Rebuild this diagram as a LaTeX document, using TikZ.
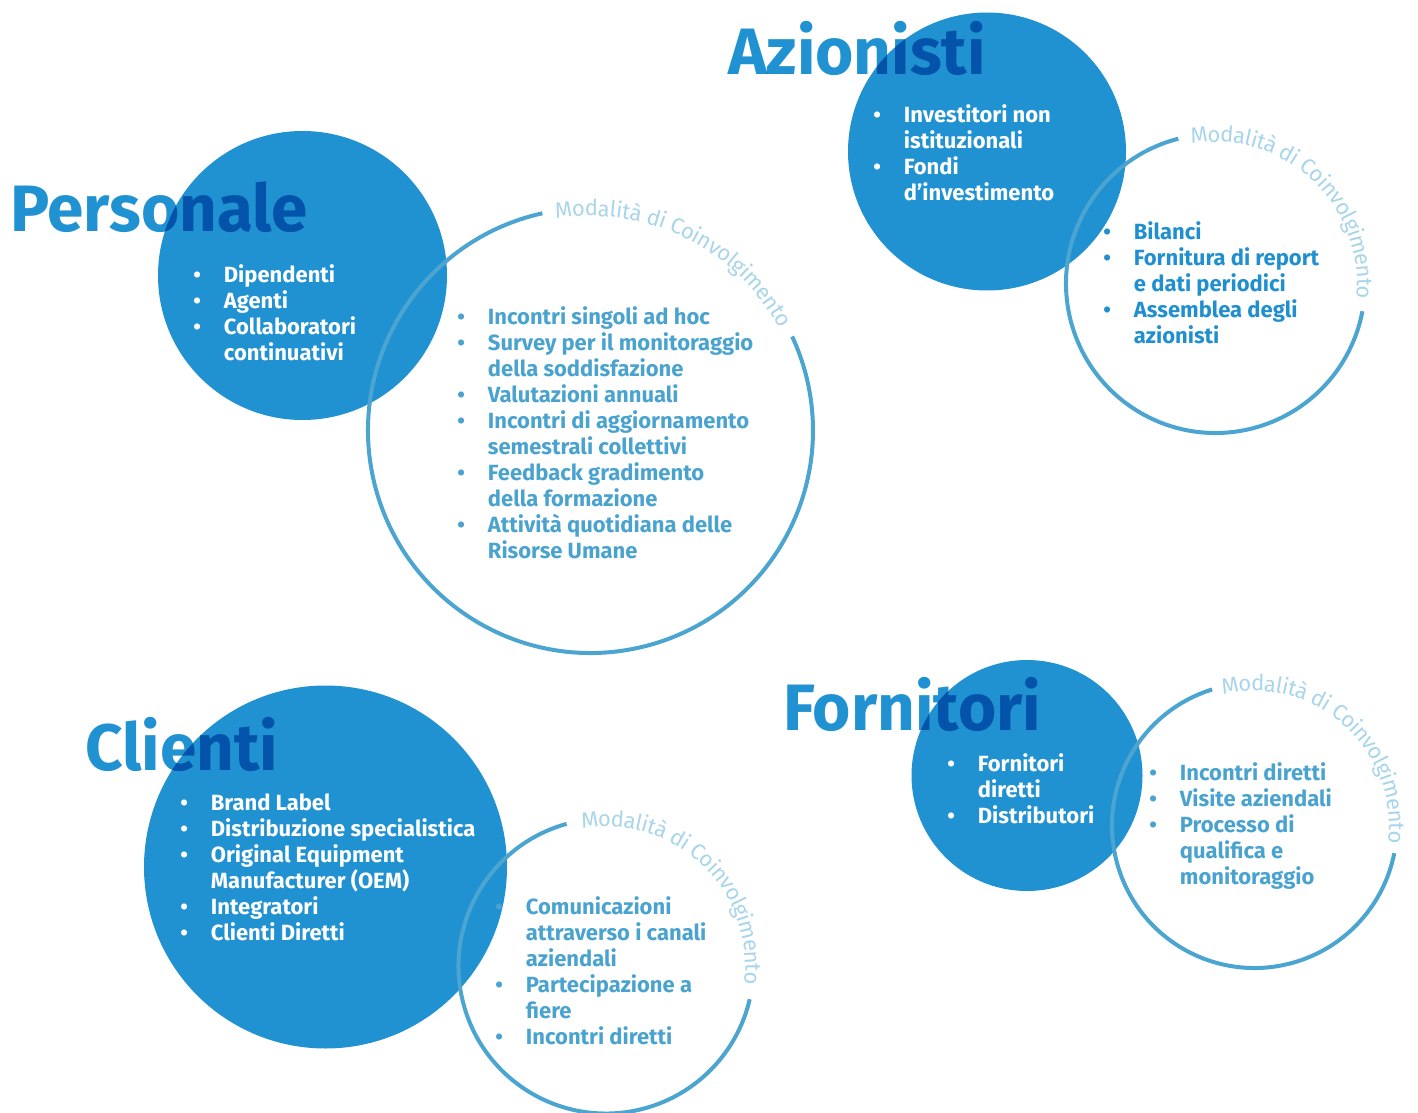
\documentclass[tikz,border=0pt]{standalone}
\usepackage{fontspec}
\setmainfont{Fira Sans}
\usepackage{xcolor}
\usepackage{tikz}
\usetikzlibrary{decorations.text}

\definecolor{discblue}{RGB}{33,146,209}
\definecolor{ringblue}{RGB}{75,165,208}
\definecolor{listblue}{RGB}{74,163,207}
\definecolor{shareblue}{RGB}{32,143,208}
\definecolor{arcblue}{RGB}{168,213,234}

\newcommand{\bl}{\makebox[23pt][l]{\textbullet}}
\newcommand{\ind}{\hspace*{23pt}}
\newcommand{\arcfont}{\fontsize{16.5}{16.5}\selectfont\color{arcblue}}

\tikzset{
  disc/.style={fill=discblue, draw=none},
  ring/.style={draw=ringblue, line width=3pt},
  heading/.style={anchor=base west, inner sep=0pt, text=discblue, font=\fontsize{49.2}{49.2}\selectfont\bfseries},
  whitelist/.style={anchor=north west, inner sep=0pt, align=left, text=white, font=\fontsize{16.5}{19.5}\selectfont\bfseries},
  ringlist/.style={whitelist, text=listblue},
  arclabel/.style={decorate, decoration={text along path, text align=center, raise=-6pt, text={|\arcfont|Modalità di Coinvolgimento}}}
}

\begin{document}
\begin{tikzpicture}[x=0.75pt,y=0.75pt,yscale=-1,xscale=1]
\useasboundingbox (0,0) rectangle (1418,1113);

% centres
\coordinate (discPers) at (302.5,275.5);
\coordinate (ringPers) at (590.5,430.5);
\coordinate (discAzio) at (987,151.5);
\coordinate (ringAzio) at (1215.5,283.5);
\coordinate (discClie) at (325.5,867);
\coordinate (ringClie) at (606,966);
\coordinate (discForn) at (1027,775.5);
\coordinate (ringForn) at (1254.5,825.5);

% filled circles
\fill[disc] (discPers) circle [radius=144.5];
\fill[disc] (discAzio) circle [radius=139];
\fill[disc] (discClie) circle [radius=181.5];
\fill[disc] (discForn) circle [radius=115.5];

% open rings
\draw[ring] ([shift={(-102.5:222.5)}]ringPers) arc [start angle=-102.5, end angle=-385, radius=222.5];
\draw[ring] ([shift={(-104.4:149.5)}]ringAzio) arc [start angle=-104.4, end angle=-349.3, radius=149.5];
\draw[ring] ([shift={(-105.5:147.5)}]ringClie) arc [start angle=-105.5, end angle=-347, radius=147.5];
\draw[ring] ([shift={(-107.3:142.5)}]ringForn) arc [start angle=-107.3, end angle=-348.8, radius=142.5];

% ring labels
\path[arclabel] ([shift={(-102.5:222.5)}]ringPers) arc [start angle=-102.5, end angle=-25, radius=222.5];
\path[arclabel] ([shift={(-104.4:149.5)}]ringAzio) arc [start angle=-104.4, end angle=10.7, radius=149.5];
\path[arclabel] ([shift={(-105.5:147.5)}]ringClie) arc [start angle=-105.5, end angle=13, radius=147.5];
\path[arclabel] ([shift={(-107.3:142.5)}]ringForn) arc [start angle=-107.3, end angle=11.2, radius=142.5];

% Text Node
\node[whitelist] (listPers) at (193,264) {\bl Dipendenti\\ \bl Agenti\\ \bl Collaboratori\\ \ind continuativi};
% Text Node
\node[ringlist] (modPers) at (457,306) {\bl Incontri singoli ad hoc\\ \bl Survey per il monitoraggio\\ \ind della soddisfazione\\ \bl Valutazioni annuali\\ \bl Incontri di aggiornamento\\ \ind semestrali collettivi\\ \bl Feedback gradimento\\ \ind della formazione\\ \bl Attività quotidiana delle\\ \ind Risorse Umane};
% Text Node
\node[whitelist] (listAzio) at (873,104) {\bl Investitori non\\ \ind istituzionali\\ \bl Fondi\\ \ind d’investimento};
% Text Node
\node[ringlist, text=shareblue] (modAzio) at (1103,221) {\bl Bilanci\\ \bl Fornitura di report\\ \ind e dati periodici\\ \bl Assemblea degli\\ \ind azionisti};
% Text Node
\node[whitelist] (listClie) at (180,794) {\bl Brand Label\\ \bl Distribuzione specialistica\\ \bl Original Equipment\\ \ind Manufacturer (OEM)\\ \bl Integratori\\ \bl Clienti Diretti};
% Text Node
\node[ringlist] (modClie) at (495,896) {\bl Comunicazioni\\ \ind attraverso i canali\\ \ind aziendali\\ \bl Partecipazione a\\ \ind fiere\\ \bl Incontri diretti};
% Text Node
\node[whitelist] (listForn) at (947,753) {\bl Fornitori\\ \ind diretti\\ \bl Distributori};
% Text Node
\node[ringlist] (modForn) at (1149,762) {\bl Incontri diretti\\ \bl Visite aziendali\\ \bl Processo di\\ \ind qualifica e\\ \ind monitoraggio};

% headings
\begin{scope}[blend mode=multiply]
\node[heading] (hPers) at (10,231) {Personale};
\node[heading] (hAzio) at (728,75) {Azionisti};
\node[heading] (hClie) at (85,770) {Clienti};
\node[heading] (hForn) at (783,730) {Fornitori};
\end{scope}

\end{tikzpicture}
\end{document}
